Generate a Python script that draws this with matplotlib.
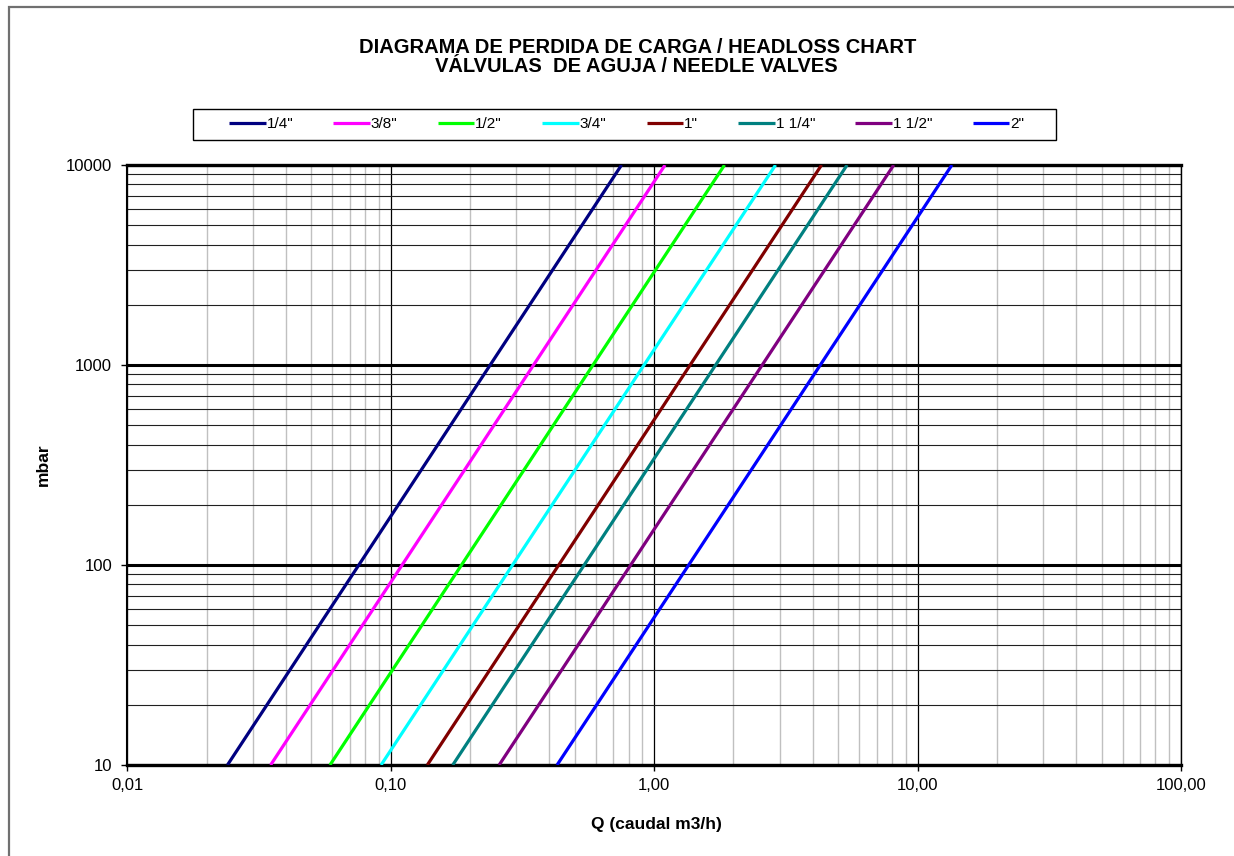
import matplotlib
matplotlib.use("Agg")
import matplotlib.pyplot as plt
from matplotlib.ticker import FixedLocator, FixedFormatter, LogLocator, NullFormatter
from matplotlib.patches import Rectangle

plt.rcParams['font.family'] = ['Liberation Sans', 'DejaVu Sans']

# ---- data ----
sizes = ['1/4"', '3/8"', '1/2"', '3/4"', '1"', '1 1/4"', '1 1/2"', '2"']
colors = ['#000080', '#FF00FF', '#00FF00', '#00FFFF', '#800000', '#008080', '#800080', '#0000FF']
pressure_mbar = [10, 10000]
q_at_10 = [0.0240, 0.0350, 0.0588, 0.0919, 0.1377, 0.172, 0.258, 0.428]
q_at_10000 = [0.752, 1.10, 1.85, 2.89, 4.32, 5.40, 8.12, 13.5]
x_ticks = [0.01, 0.1, 1, 10, 100]
x_tick_labels = ['0,01', '0,10', '1,00', '10,00', '100,00']
y_ticks = [10, 100, 1000, 10000]
y_tick_labels = ['10', '100', '1000', '10000']

W, H = 1234, 856
fig = plt.figure(figsize=(W / 100, H / 100), dpi=100)
ax = fig.add_axes([127.3 / W, 1 - 765 / H, (1181 - 127.3) / W, (765 - 165) / H])

for lab, col, q1, q2 in zip(sizes, colors, q_at_10, q_at_10000):
    ax.plot([q1, q2], pressure_mbar, color=col, lw=2.3, label=lab, solid_capstyle='butt', zorder=5)

ax.set_xscale('log')
ax.set_yscale('log')
ax.set_xlim(0.01, 100)
ax.set_ylim(10, 10000)

ax.xaxis.set_major_locator(FixedLocator(x_ticks))
ax.xaxis.set_major_formatter(FixedFormatter(x_tick_labels))
ax.yaxis.set_major_locator(FixedLocator(y_ticks))
ax.yaxis.set_major_formatter(FixedFormatter(y_tick_labels))
ax.xaxis.set_minor_locator(LogLocator(base=10, subs=range(2, 10), numticks=20))
ax.yaxis.set_minor_locator(LogLocator(base=10, subs=range(2, 10), numticks=20))
ax.xaxis.set_minor_formatter(NullFormatter())
ax.yaxis.set_minor_formatter(NullFormatter())

ax.xaxis.grid(True, which='minor', color='#c0c0c0', lw=1.0, zorder=1)
ax.xaxis.grid(True, which='major', color='black', lw=0.9, zorder=2)
ax.yaxis.grid(True, which='minor', color='#202020', lw=0.8, zorder=2)
ax.yaxis.grid(True, which='major', color='black', lw=2.2, zorder=3)
ax.set_axisbelow(True)

ax.tick_params(which='minor', length=0)
ax.tick_params(which='major', direction='out', length=4, width=1, labelsize=12, colors='black')
ax.tick_params(axis='x', pad=5)
ax.tick_params(axis='y', pad=7)

for s in ['top', 'bottom']:
    ax.spines[s].set_linewidth(2.4)
ax.spines['left'].set_linewidth(1.5)
ax.spines['right'].set_linewidth(1.0)

# axis titles
fig.text(656 / W, 1 - 825 / H, 'Q (caudal m3/h)', ha='center', va='center',
         fontsize=12.5, fontweight='bold')
fig.text(43 / W, 1 - 465 / H, 'mbar', ha='center', va='center', rotation=90,
         fontsize=12.5, fontweight='bold')

# titles
fig.text(638 / W, 1 - 47.5 / H, 'DIAGRAMA DE PERDIDA DE CARGA / HEADLOSS CHART',
         ha='center', va='center', fontsize=14.5, fontweight='bold')
fig.text(636 / W, 1 - 66 / H, 'VÁLVULAS  DE AGUJA / NEEDLE VALVES',
         ha='center', va='center', fontsize=14.5, fontweight='bold')

# legend box
fig.add_artist(Rectangle((192.7 / W, 1 - 140 / H), (1056 - 192.7) / W, 31 / H,
                         transform=fig.transFigure, facecolor='white', edgecolor='black', lw=1.0))
handles, labels = ax.get_legend_handles_labels()
fig.legend(handles, labels, loc='center', ncol=8, mode='expand', frameon=False,
           bbox_to_anchor=(229 / W, 1 - 140 / H, (1024 - 229) / W, 31 / H),
           fontsize=11, handlelength=2.4, handletextpad=0.05, borderpad=0, borderaxespad=0)

# outer frame (left and top edges visible)
fig.add_artist(Rectangle((8.5 / W, -0.5), 2.0, 1.5 - 6.5 / H, transform=fig.transFigure,
                         facecolor='none', edgecolor='#707070', lw=1.6))

fig.savefig('out.png', dpi=100)
